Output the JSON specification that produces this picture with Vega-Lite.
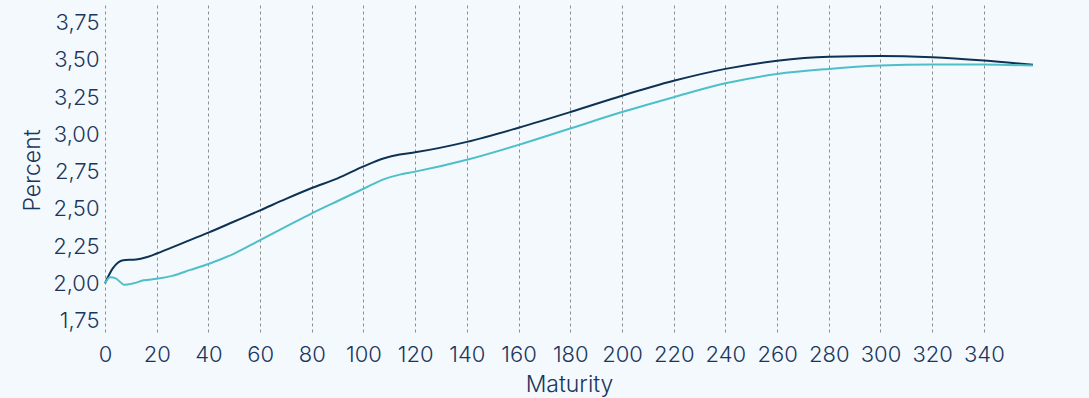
{
  "$schema": "https://vega.github.io/schema/vega-lite/v6.json",
  "autosize": {"type": "none"},
  "padding": {"left": 105, "top": 5, "right": 56, "bottom": 63},
  "width": 928,
  "height": 330,
  "background": "#f4f9fd",
  "config": {
    "view": {"stroke": null},
    "locale": {"number": {"decimal": ",", "thousands": ".", "grouping": [3], "currency": ["", " €"]}},
    "axis": {
      "labelFont": "Inter",
      "labelFontWeight": 300,
      "labelFontSize": 22,
      "labelColor": "#1b365d",
      "titleFont": "Inter",
      "titleFontWeight": 300,
      "titleFontSize": 23,
      "titleColor": "#1b365d",
      "domain": false,
      "ticks": false
    }
  },
  "data": {
    "values": [
      {"m": 0, "s": "Series 1", "v": 2.00},
      {"m": 3, "s": "Series 1", "v": 2.10},
      {"m": 7, "s": "Series 1", "v": 2.155},
      {"m": 12, "s": "Series 1", "v": 2.16},
      {"m": 16, "s": "Series 1", "v": 2.175},
      {"m": 20, "s": "Series 1", "v": 2.20},
      {"m": 30, "s": "Series 1", "v": 2.27},
      {"m": 40, "s": "Series 1", "v": 2.34},
      {"m": 50, "s": "Series 1", "v": 2.415},
      {"m": 60, "s": "Series 1", "v": 2.49},
      {"m": 70, "s": "Series 1", "v": 2.567},
      {"m": 80, "s": "Series 1", "v": 2.64},
      {"m": 90, "s": "Series 1", "v": 2.705},
      {"m": 100, "s": "Series 1", "v": 2.785},
      {"m": 108, "s": "Series 1", "v": 2.84},
      {"m": 114, "s": "Series 1", "v": 2.865},
      {"m": 120, "s": "Series 1", "v": 2.88},
      {"m": 140, "s": "Series 1", "v": 2.95},
      {"m": 160, "s": "Series 1", "v": 3.045},
      {"m": 180, "s": "Series 1", "v": 3.15},
      {"m": 200, "s": "Series 1", "v": 3.26},
      {"m": 220, "s": "Series 1", "v": 3.36},
      {"m": 240, "s": "Series 1", "v": 3.44},
      {"m": 260, "s": "Series 1", "v": 3.495},
      {"m": 280, "s": "Series 1", "v": 3.522},
      {"m": 300, "s": "Series 1", "v": 3.527},
      {"m": 320, "s": "Series 1", "v": 3.518},
      {"m": 340, "s": "Series 1", "v": 3.496},
      {"m": 359, "s": "Series 1", "v": 3.468},
      {"m": 0, "s": "Series 2", "v": 2.00},
      {"m": 2, "s": "Series 2", "v": 2.04},
      {"m": 4, "s": "Series 2", "v": 2.035},
      {"m": 7.5, "s": "Series 2", "v": 1.99},
      {"m": 11, "s": "Series 2", "v": 2.00},
      {"m": 15, "s": "Series 2", "v": 2.02},
      {"m": 20, "s": "Series 2", "v": 2.03},
      {"m": 26, "s": "Series 2", "v": 2.05},
      {"m": 33, "s": "Series 2", "v": 2.09},
      {"m": 40, "s": "Series 2", "v": 2.13},
      {"m": 50, "s": "Series 2", "v": 2.20},
      {"m": 60, "s": "Series 2", "v": 2.29},
      {"m": 70, "s": "Series 2", "v": 2.38},
      {"m": 80, "s": "Series 2", "v": 2.47},
      {"m": 90, "s": "Series 2", "v": 2.553},
      {"m": 100, "s": "Series 2", "v": 2.635},
      {"m": 108, "s": "Series 2", "v": 2.70},
      {"m": 114, "s": "Series 2", "v": 2.73},
      {"m": 120, "s": "Series 2", "v": 2.75},
      {"m": 140, "s": "Series 2", "v": 2.83},
      {"m": 160, "s": "Series 2", "v": 2.93},
      {"m": 180, "s": "Series 2", "v": 3.04},
      {"m": 200, "s": "Series 2", "v": 3.15},
      {"m": 220, "s": "Series 2", "v": 3.25},
      {"m": 240, "s": "Series 2", "v": 3.343},
      {"m": 260, "s": "Series 2", "v": 3.406},
      {"m": 280, "s": "Series 2", "v": 3.44},
      {"m": 300, "s": "Series 2", "v": 3.462},
      {"m": 320, "s": "Series 2", "v": 3.469},
      {"m": 340, "s": "Series 2", "v": 3.469},
      {"m": 359, "s": "Series 2", "v": 3.462}
    ]
  },
  "mark": {"type": "line", "interpolate": "monotone", "strokeWidth": 2},
  "encoding": {
    "x": {
      "field": "m",
      "type": "quantitative",
      "title": "Maturity",
      "scale": {"domain": [0, 359], "nice": false, "zero": false},
      "axis": {
        "values": [0, 20, 40, 60, 80, 100, 120, 140, 160, 180, 200, 220, 240, 260, 280, 300, 320, 340],
        "grid": true,
        "gridColor": "#8f8f8f",
        "gridDash": [3, 3],
        "gridWidth": 1,
        "labelFlush": false,
        "labelPadding": 9,
        "titlePadding": 8
      }
    },
    "y": {
      "field": "v",
      "type": "quantitative",
      "title": "Percent",
      "scale": {"domain": [1.653, 3.869], "nice": false, "zero": false},
      "axis": {
        "values": [1.75, 2.0, 2.25, 2.5, 2.75, 3.0, 3.25, 3.5, 3.75],
        "format": ".2f",
        "grid": false,
        "labelPadding": 6,
        "titlePadding": 8
      }
    },
    "color": {
      "field": "s",
      "type": "nominal",
      "legend": null,
      "scale": {"domain": ["Series 1", "Series 2"], "range": ["#0d3253", "#4cbfc8"]}
    }
  }
}
